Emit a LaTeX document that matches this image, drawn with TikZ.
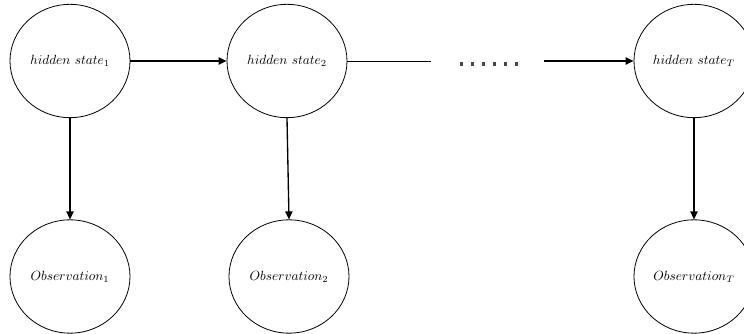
\documentclass[tikz,border=0pt]{standalone}
\usetikzlibrary{shapes.geometric,arrows.meta}
\tikzset{
  statenode/.style={draw, ellipse, line width=0.6pt, inner sep=0pt,
    minimum width=90pt, minimum height=85pt, font=\fontsize{9.8}{12}\selectfont},
  edgearrow/.style={line width=1pt, -{Triangle[length=6pt,width=5.5pt]}},
  plainedge/.style={line width=0.6pt},
  dotrow/.style={line width=2.3pt, color=black!72, dash pattern=on 2.3pt off 5.95pt}
}
\begin{document}
\begin{tikzpicture}[x=0.75pt,y=-0.75pt]
\clip (0,0) rectangle (744,334);
\useasboundingbox (0,0) rectangle (744,334);
\node[statenode] (h1) at (70,61) {$hidden\ state_1$};
\node[statenode] (h2) at (287,61) {$hidden\ state_2$};
\node[statenode] (hT) at (694,61) {$hidden\ state_T$};
\node[statenode] (o1) at (70,276.5) {$Observation_1$};
\node[statenode] (o2) at (289,276.5) {$Observation_2$};
\node[statenode] (oT) at (694,276.5) {$Observation_T$};
\coordinate (lend) at (430.5,61);
\coordinate (astart) at (544,61);
\coordinate (dstart) at (459.5,64);
\coordinate (dend) at (518,64);
\draw[edgearrow] (h1) -- (h2);
\draw[plainedge] (h2) -- (lend);
\draw[edgearrow] (astart) -- (hT);
\draw[dotrow] (dstart) -- (dend);
\draw[edgearrow] (h1) -- (o1);
\draw[edgearrow] (h2.south) -- (o2.north);
\draw[edgearrow] (hT) -- (oT);
\end{tikzpicture}
\end{document}
